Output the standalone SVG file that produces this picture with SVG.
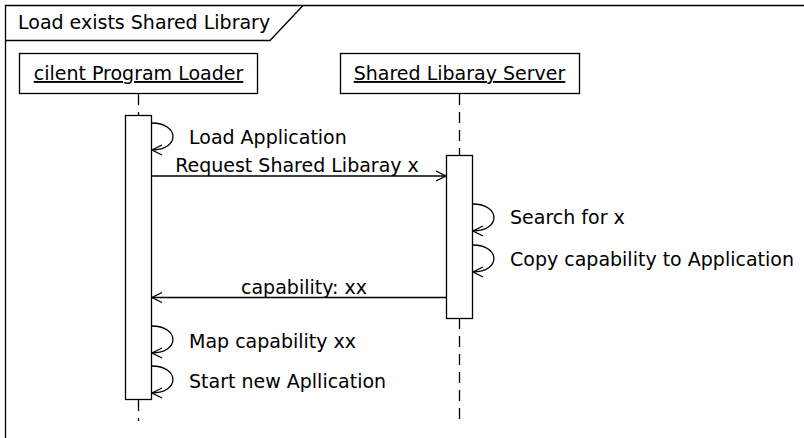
<svg xmlns="http://www.w3.org/2000/svg" width="804" height="438" viewBox="0 0 804 438">
<defs>
<marker id="open" viewBox="0 0 12 12" refX="11" refY="6" markerWidth="12" markerHeight="12" markerUnits="userSpaceOnUse" orient="auto">
<path d="M1,1 L11,6 L1,11" fill="none" stroke="#000" stroke-width="1.3"/>
</marker>
</defs>
<style>
text{font-family:"DejaVu Sans","Liberation Sans",sans-serif;font-size:19px;fill:#000}
.box{fill:#fff;stroke:#000;stroke-width:1.3}
.life{stroke:#000;stroke-width:1.3;stroke-dasharray:11,7;fill:none}
.msg{stroke:#000;stroke-width:1.3;fill:none;marker-end:url(#open)}
.u{text-decoration:underline}
</style>
<rect width="804" height="438" fill="#fff"/>
<g id="frame">
<path d="M5.5,440 V5.5 H810" fill="none" stroke="#000" stroke-width="1.3"/>
<path d="M5.5,40.5 H270 L303,5.5" fill="none" stroke="#000" stroke-width="1.3"/>
<text x="18" y="29">Load exists Shared Library</text>
</g>
<g id="lifelines">
<line class="life" x1="138.5" y1="94" x2="138.5" y2="115"/>
<line class="life" x1="138.5" y1="400" x2="138.5" y2="421"/>
<line class="life" x1="459.5" y1="94" x2="459.5" y2="155"/>
<line class="life" x1="459.5" y1="318" x2="459.5" y2="419"/>
</g>
<g id="client">
<rect class="box" x="19.5" y="53.5" width="238" height="40"/>
<text class="u" x="138.5" y="80" text-anchor="middle">cilent Program Loader</text>
</g>
<g id="server">
<rect class="box" x="340.5" y="53.5" width="239" height="40"/>
<text class="u" x="459.5" y="80" text-anchor="middle">Shared Libaray Server</text>
</g>
<g id="act-client">
<rect class="box" x="125.5" y="115.5" width="26" height="284"/>
</g>
<g id="act-server">
<rect class="box" x="446.5" y="155.5" width="26" height="163"/>
</g>
<g id="connectors">
<path class="msg" d="M151.5,123 C180,123 180,150 152,150"/>
<path class="msg" d="M151.5,176 H446"/>
<path class="msg" d="M472.5,204 C501,204 501,231 473,231"/>
<path class="msg" d="M472.5,245 C501,245 501,272 473,272"/>
<path class="msg" d="M446,297.5 H152"/>
<path class="msg" d="M151.5,326 C180,326 180,353 152,353"/>
<path class="msg" d="M151.5,366 C180,366 180,393 152,393"/>
</g>
<g id="labels">
<text x="189" y="144">Load Application</text>
<text x="297" y="172" text-anchor="middle">Request Shared Libaray x</text>
<text x="510" y="224">Search for x</text>
<text x="510" y="266">Copy capability to Application</text>
<text x="304" y="294" text-anchor="middle">capability: xx</text>
<text x="189" y="348">Map capability xx</text>
<text x="189" y="388">Start new Apllication</text>
</g>
</svg>
